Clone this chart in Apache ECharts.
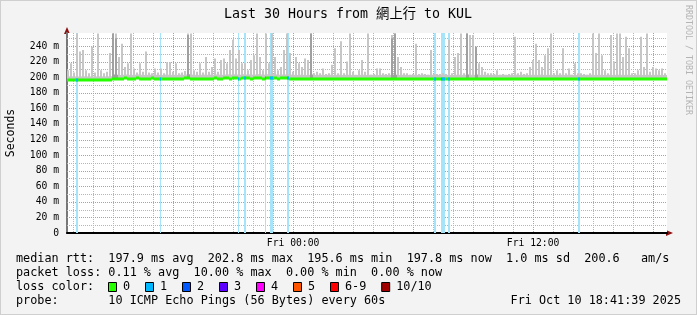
<!DOCTYPE html>
<html><head><meta charset="utf-8">
<script src="https://cdn.jsdelivr.net/npm/echarts@6/dist/echarts.min.js"></script>
<style>html,body{margin:0;padding:0;background:#f3f3f3}#c{width:697px;height:315px}</style>
</head><body><div id="c"></div>
<script>
// ---------------- data ----------------
const titleText = 'Last 30 Hours from 網上行 to KUL';
const startHour = 12 + 41/60 + 39/3600;   // Thu 12:41:39 (hours since Thu 00:00)
const endHour = startHour + 30;
const stepHours = 0.15;                   // one column = 9 minutes
// median RTT (ms) per column
const medianRtt = [
 196.0,196.1,196.0,195.9,196.0,196.1,196.0,196.0,195.9,196.0,
 196.1,196.0,196.0,196.1,196.2,198.3,198.0,197.8,198.1,198.4,
 198.0,197.9,198.2,198.5,198.1,197.9,198.0,198.2,198.6,198.1,
 198.0,197.8,198.3,198.2,198.0,198.1,197.9,198.2,198.0,198.4,
 198.6,198.3,198.0,197.9,198.1,198.2,198.0,198.3,198.1,198.5,
 198.2,198.0,198.4,198.6,198.3,198.7,198.4,198.2,198.8,198.5,
 198.6,198.3,198.4,198.9,198.5,198.3,198.7,198.4,198.9,198.6,
 198.2,198.4,198.5,198.8,198.3,198.0,197.9,198.1,198.0,197.8,
 198.0,198.2,197.9,198.0,198.1,197.8,198.0,198.1,197.9,198.0,
 198.2,197.8,198.0,198.1,197.9,198.0,197.8,198.0,198.1,197.9,
 198.0,198.2,197.9,197.8,198.0,198.1,197.9,198.0,198.2,198.0,
 197.9,198.1,198.0,197.8,198.0,198.1,197.9,198.0,198.2,197.9,
 198.0,198.1,198.0,197.9,198.0,198.1,198.0,197.8,198.0,198.1,
 198.2,197.9,198.0,198.3,198.1,198.0,198.2,197.9,198.0,198.1,
 197.9,198.0,198.2,197.8,198.0,198.1,197.9,198.0,198.0,198.2,
 197.9,198.0,198.1,197.8,198.0,198.1,197.9,198.2,198.0,197.9,
 198.1,198.0,197.8,198.0,198.1,197.9,198.0,198.2,198.0,197.8,
 198.1,197.9,198.0,198.0,198.2,197.9,198.0,198.1,197.8,198.0,
 198.1,197.9,198.0,198.2,198.0,197.9,198.1,198.0,197.8,198.0,
 198.1,197.9,198.0,198.1,197.9,198.0,198.1,197.9,197.8,197.8
];
// max ping (top of smoke) per column, ms
const smokeMax = [
 209,218,206,256,233,235,209,205,239,206,
 256,209,205,207,231,256,256,226,243,213,
 218,256,211,206,218,207,233,206,205,211,
 206,211,205,219,219,207,218,205,206,208,
 256,256,209,207,218,206,226,207,213,224,
 207,222,224,218,235,248,224,235,218,218,
 209,222,228,256,226,209,256,218,256,226,
 209,213,235,256,231,207,226,218,213,224,
 222,256,205,207,205,211,204,205,216,237,
 205,246,205,220,256,207,203,209,222,207,
 256,203,204,211,211,205,204,205,254,256,
 226,213,205,205,203,204,243,204,205,204,
 203,235,204,204,204,205,204,248,205,226,
 231,256,205,256,254,254,239,218,213,207,
 205,205,204,209,203,204,203,204,205,252,
 205,207,204,205,213,222,243,222,213,228,
 237,256,205,209,205,237,205,211,203,218,
 205,205,204,203,205,256,231,256,228,209,
 205,254,220,256,256,226,252,237,205,205,
 209,252,213,256,207,213,211,209,211,205
];
// darker smoke columns: [column, ms]
const darkSmoke = [[15,256],[16,250],[40,254],[81,256],[108,250],[109,256],[133,256],[136,239]];
// packet-loss periods (loss 1/10)
const lossStart = ['Thu 13:09','Thu 17:22','Thu 21:15','Thu 21:33','Thu 22:36','Thu 22:52','Thu 23:43','Fri 07:03','Fri 07:25','Fri 07:45','Fri 14:16'];
const lossEnd   = ['Thu 13:16','Thu 17:25','Thu 21:19','Thu 21:40','Thu 22:40','Thu 23:00','Thu 23:48','Fri 07:10','Fri 07:36','Fri 07:51','Fri 14:20'];
const yTicks = [0,20,40,60,80,100,120,140,160,180,200,220,240];
const yMax = 256.7;
const xTickHours = [24, 36];
const xTickLabels = ['Fri 00:00', 'Fri 12:00'];
const statLines = [
 'median rtt:  197.9 ms avg  202.8 ms max  195.6 ms min  197.8 ms now  1.0 ms sd  200.6   am/s',
 'packet loss: 0.11 % avg  10.00 % max  0.00 % min  0.00 % now',
 'loss color:',
 'probe:       10 ICMP Echo Pings (56 Bytes) every 60s'
];
const dateText = 'Fri Oct 10 18:41:39 2025';
const lossLegendLabels = ['0','1','2','3','4','5','6-9','10/10'];
const lossLegendColors = ['#26ff00','#00b8ff','#0059ff','#5e00ff','#ff00ff','#ff5500','#ff0000','#a10000'];

// ---------------- build ----------------
function parseT(s){ const [d,hm]=s.split(' '); const [h,m]=hm.split(':').map(Number); return (d==='Fri'?24:0)+h+m/60; }
const colT = i => startHour + (i + 0.5) * stepHours;
const smokeData = smokeMax.map((v,i)=>[colT(i), medianRtt[i], v]);
const darkData = darkSmoke.map(([c,v])=>[colT(c), medianRtt[c], v]);
const medData = medianRtt.map((v,i)=>[colT(i), v]);
const lossData = lossStart.map((s,i)=>{
  const a=parseT(s), b=parseT(lossEnd[i]);
  const c=Math.min(medianRtt.length-1, Math.floor(((a+b)/2 - startHour)/stepHours));
  return [a,b,medianRtt[c]];
});
const MAJOR='#dc8c8c', MINOR='#b6b6b6';
// grid line items: [x, y, major, vertical]
const gridItems=[];
for(let h=Math.ceil(startHour); h<=endHour; h++) gridItems.push([h, 100, h%6===0?1:0, 1]);
for(let v=10; v<yMax; v+=10) gridItems.push([startHour+1, v, v%20===0?1:0, 0]);

const MONO='"DejaVu Sans Mono", "Liberation Mono", monospace';
const chart = echarts.init(document.getElementById('c'), null, {renderer:'canvas'});

function plotBg(params, api){
  const cs=params.coordSys;
  return {type:'rect', shape:{x:cs.x,y:cs.y,width:cs.width,height:cs.height}, style:{fill:'#ffffff'}};
}
function gridItem(params, api){
  const cs=params.coordSys; const p=api.coord([api.value(0), api.value(1)]);
  const c=api.value(2)===1?MAJOR:MINOR; const vertical=api.value(3)===1;
  const ch=[];
  if(vertical){
    const x=Math.round(p[0]), y0=Math.round(cs.y), len=Math.round(cs.height);
    for(let k=0;k<len;k+=2) ch.push({type:'rect', shape:{x:x,y:y0+k,width:1,height:1}, style:{fill:c}});
  } else {
    const y=Math.round(p[1]), x0=Math.round(cs.x), len=Math.round(cs.width);
    for(let k=0;k<len;k+=2) ch.push({type:'rect', shape:{x:x0+k,y:y,width:1,height:1}, style:{fill:c}});
  }
  return {type:'group', children:ch};
}
function lossBg(params, api){
  const cs=params.coordSys;
  const a=api.coord([api.value(0),0]), b=api.coord([api.value(1),0]);
  const x0=Math.round(a[0]), x1=Math.max(x0+1, Math.round(b[0]));
  return {type:'rect', shape:{x:x0,y:cs.y,width:x1-x0,height:cs.height}, style:{fill:'#a6e4fa'}};
}
function lossMed(params, api){
  const a=api.coord([api.value(0),api.value(2)]), b=api.coord([api.value(1),api.value(2)]);
  const x0=Math.round(a[0]), x1=Math.max(x0+1, Math.round(b[0]));
  return {type:'rect', shape:{x:x0,y:Math.round(a[1])-1.5,width:x1-x0,height:3}, style:{fill:'#00b8ff'}};
}
function smokeItem(color){
  return function(params, api){
    const t=api.value(0), lo=api.value(1), hi=api.value(2);
    const a=api.coord([t-stepHours/2, lo]), b=api.coord([t+stepHours/2, hi]);
    const base=api.coord([t, Math.min(hi, lo+5)]);
    const x0=Math.round(a[0]), x1=Math.round(b[0]);
    return {type:'group', children:[
      {type:'rect', shape:{x:x0,y:base[1],width:x1-x0,height:a[1]-base[1]}, style:{fill:color}},
      {type:'rect', shape:{x:x0,y:b[1],width:Math.max(1,x1-x0-1),height:a[1]-b[1]}, style:{fill:color}}
    ]};
  };
}
function medItem(params, api){
  const t=api.value(0), v=api.value(1);
  const a=api.coord([t-stepHours/2, v]), b=api.coord([t+stepHours/2, v]);
  const x0=Math.round(a[0]), x1=Math.round(b[0]);
  return {type:'rect', shape:{x:x0,y:Math.round(a[1])-1.5,width:x1-x0,height:3}, style:{fill:'#26ff00'}};
}

const graphics = [];
graphics.push({type:'rect', shape:{x:0,y:0,width:697,height:315}, style:{fill:'none', stroke:'#cfcfcf', lineWidth:2}, silent:true});
graphics.push({type:'text', x:348, y:15, style:{text:titleText, font:'13.3px "DejaVu Sans Mono", "Noto Sans CJK TC"', fill:'#000', align:'center', verticalAlign:'middle'}});
graphics.push({type:'text', x:688, y:60, rotation:-Math.PI/2, style:{text:'RRDTOOL / TOBI OETIKER', font:'8.3px '+MONO, fill:'#b4b4b4', align:'center', verticalAlign:'middle'}});
graphics.push({type:'polygon', shape:{points:[[64,34],[70,34],[67,27]]}, style:{fill:'#8b1010'}});
graphics.push({type:'polygon', shape:{points:[[666,230],[666,236],[673,233]]}, style:{fill:'#8b1010'}});
const lineY=[259,273,287,301];
statLines.forEach((s,i)=>graphics.push({type:'text', x:16, y:lineY[i], style:{text:s, font:'11.8px '+MONO, fill:'#000', verticalAlign:'middle'}}));
graphics.push({type:'text', x:681, y:301, style:{text:dateText, font:'11.8px '+MONO, fill:'#000', align:'right', verticalAlign:'middle'}});
let lx=108;
lossLegendLabels.forEach((lab,i)=>{
  graphics.push({type:'rect', shape:{x:lx+0.5,y:282.5,width:8,height:9}, style:{fill:lossLegendColors[i], stroke:'#000', lineWidth:1}});
  graphics.push({type:'text', x:lx+15, y:287, style:{text:lab, font:'11.8px '+MONO, fill:'#000', verticalAlign:'middle'}});
  lx += 15 + lab.length*7.1 + 14.9;
});

chart.setOption({
  animation:false,
  backgroundColor:'#f3f3f3',
  grid:{left:67,right:30,top:33,bottom:82,outerBoundsMode:'none',containLabel:false,show:false},
  xAxis:{type:'value',min:startHour,max:endHour,
    axisLine:{show:true,lineStyle:{color:'#000',width:2}},
    axisTick:{show:false}, splitLine:{show:false},
    axisLabel:{customValues:xTickHours, formatter:v=>xTickLabels[xTickHours.indexOf(v)]||'', margin:5,
      fontFamily:'DejaVu Sans Mono', fontSize:9.7, color:'#000'}},
  yAxis:{type:'value',min:0,max:yMax,
    name:'Seconds', nameLocation:'middle', nameGap:50, nameRotate:90,
    nameTextStyle:{fontFamily:'DejaVu Sans Mono', fontSize:11.5, color:'#000'},
    axisLine:{show:true,lineStyle:{color:'#777',width:2}},
    axisTick:{show:false}, splitLine:{show:false},
    axisLabel:{customValues:yTicks, formatter:v=>v===0?'0':v+' m', margin:8,
      fontFamily:'DejaVu Sans Mono', fontSize:9.7, color:'#000'}},
  series:[
    {type:'custom', z:0, silent:true, renderItem:plotBg, data:[[startHour+1,100]]},
    {type:'custom', z:1, silent:true, renderItem:gridItem, data:gridItems},
    {type:'custom', z:2, silent:true, renderItem:lossBg, data:lossData.map(d=>[d[0],d[1]]), clip:true},
    {type:'custom', z:3, silent:true, renderItem:smokeItem('#c6c6c6'), data:smokeData, clip:true},
    {type:'custom', z:4, silent:true, renderItem:smokeItem('#a0a0a0'), data:darkData, clip:true},
    {type:'custom', z:5, silent:true, renderItem:medItem, data:medData, clip:true},
    {type:'custom', z:6, silent:true, renderItem:lossMed, data:lossData, clip:true}
  ],
  graphic:graphics
});
</script></body></html>
